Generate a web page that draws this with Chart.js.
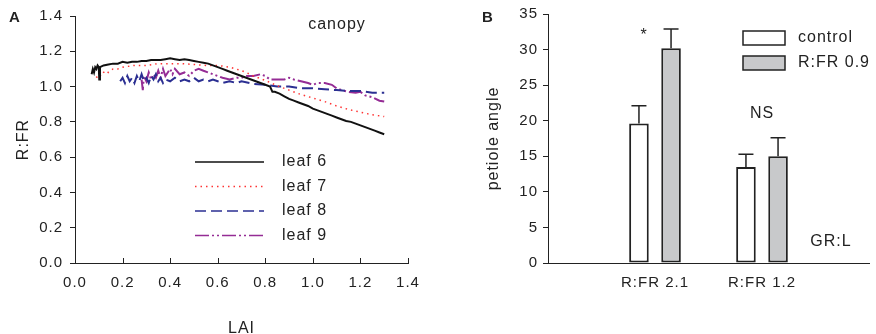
<!DOCTYPE html>
<html>
<head>
<meta charset="utf-8">
<script src="https://cdn.jsdelivr.net/npm/chart.js@4.4.0/dist/chart.umd.min.js"></script>
<style>
  html, body { margin: 0; padding: 0; background: #fff; overflow: hidden; }
  #painelA { position: absolute; left: 0; top: 0; width: 440px; height: 334px; }
  #painelB { position: absolute; left: 440px; top: 0; width: 440px; height: 334px; }
</style>
</head>
<body>
<div id="painelA"><canvas id="graficoA"></canvas></div>
<div id="painelB"><canvas id="graficoB"></canvas></div>
<script>
// Dados - painel A (R:FR x LAI)
var lai6 = [0.07,0.075,0.08,0.085,0.09,0.095,0.10,0.102,0.105,0.12,0.14,0.16,0.18,0.20,0.22,0.24,0.26,0.28,0.30,0.32,0.34,0.36,0.38,0.40,0.42,0.44,0.46,0.48,0.50,0.52,0.54,0.56,0.58,0.60,0.62,0.64,0.66,0.68,0.70,0.72,0.74,0.76,0.78,0.80,0.82,0.83,0.84,0.86,0.88,0.90,0.92,0.94,0.96,0.98,1.00,1.02,1.04,1.06,1.08,1.10,1.12,1.14,1.16,1.18,1.20,1.22,1.24,1.26,1.28,1.30];
var rfr6 = [1.07,1.10,1.08,1.11,1.10,1.12,1.11,1.04,1.11,1.12,1.125,1.13,1.13,1.14,1.135,1.14,1.14,1.145,1.145,1.15,1.15,1.15,1.155,1.16,1.155,1.15,1.155,1.15,1.145,1.14,1.135,1.13,1.12,1.11,1.10,1.09,1.08,1.07,1.06,1.05,1.04,1.03,1.02,1.01,1.00,0.97,0.97,0.96,0.945,0.93,0.92,0.91,0.90,0.89,0.875,0.865,0.855,0.845,0.835,0.825,0.815,0.805,0.80,0.79,0.78,0.77,0.76,0.75,0.74,0.73];

var lai7 = [0.09,0.10,0.11,0.12,0.13,0.14,0.16,0.18,0.20,0.25,0.30,0.35,0.40,0.45,0.50,0.55,0.60,0.65,0.70,0.72,0.75,0.80,0.85,0.90,0.95,1.00,1.05,1.10,1.15,1.20,1.25,1.30];
var rfr7 = [1.05,1.07,1.06,1.08,1.09,1.08,1.10,1.10,1.11,1.12,1.12,1.13,1.13,1.13,1.125,1.12,1.12,1.11,1.09,1.08,1.06,1.035,1.005,0.98,0.955,0.935,0.915,0.89,0.87,0.855,0.84,0.83];

var lai8 = [0.19,0.20,0.21,0.22,0.23,0.24,0.25,0.26,0.27,0.28,0.29,0.30,0.31,0.32,0.33,0.34,0.35,0.36,0.37,0.38,0.40,0.42,0.44,0.46,0.48,0.50,0.52,0.54,0.56,0.58,0.60,0.62,0.65,0.68,0.70,0.75,0.80,0.85,0.90,0.95,1.00,1.05,1.10,1.15,1.20,1.25,1.30];
var rfr8 = [1.03,1.05,1.02,1.06,1.03,1.05,1.02,1.06,1.03,1.07,1.03,1.05,1.02,1.06,1.04,1.07,1.03,1.05,1.02,1.04,1.03,1.05,1.03,1.04,1.03,1.05,1.03,1.04,1.03,1.04,1.03,1.02,1.03,1.02,1.03,1.015,1.01,1.00,1.00,0.99,0.99,0.985,0.98,0.975,0.975,0.965,0.965];

var lai9 = [0.28,0.285,0.29,0.30,0.31,0.32,0.33,0.34,0.35,0.36,0.37,0.38,0.39,0.40,0.41,0.42,0.44,0.46,0.48,0.50,0.52,0.54,0.56,0.58,0.60,0.62,0.65,0.68,0.70,0.72,0.75,0.78,0.80,0.82,0.85,0.88,0.90,0.92,0.95,0.98,1.00,1.02,1.05,1.08,1.10,1.12,1.15,1.18,1.20,1.22,1.25,1.28,1.30];
var rfr9 = [1.04,0.98,1.06,1.03,1.08,1.04,1.07,1.05,1.09,1.05,1.10,1.06,1.08,1.10,1.07,1.10,1.07,1.08,1.06,1.09,1.10,1.09,1.08,1.07,1.06,1.05,1.04,1.05,1.05,1.06,1.06,1.07,1.06,1.04,1.04,1.04,1.05,1.04,1.03,1.02,1.01,1.02,1.02,1.01,0.99,0.98,0.97,0.965,0.97,0.95,0.94,0.92,0.915];

// Dados - painel B (angulo do peciolo)
var categorias = ['', 'R:FR 2.1', 'R:FR 1.2', ''];
var anguloControle = [null, 19.6, 13.5, null];
var erroControle = [null, 2.5, 1.8, null];
var anguloRFR09 = [null, 30.2, 15.0, null];
var erroRFR09 = [null, 2.7, 2.6, null];

Chart.defaults.font.family = "'Liberation Sans', Arial, sans-serif";
Chart.defaults.font.size = 15;
Chart.defaults.color = '#222';

function pares(xs, ys) {
  return xs.map(function (v, i) { return { x: v, y: ys[i] }; });
}

// espaçamento entre letras (texto da figura original é mais largo)
var espacamento = {
  id: 'espacamento',
  beforeUpdate: function (chart) { chart.ctx.letterSpacing = '1px'; },
  beforeDraw: function (chart) { chart.ctx.letterSpacing = '1px'; }
};

// Extras do painel A: ticks para dentro no eixo x, legenda e textos
var extrasA = {
  id: 'extrasA',
  afterDraw: function (chart) {
    var ctx = chart.ctx, x = chart.scales.x, y = chart.scales.y;
    ctx.save();
    ctx.strokeStyle = '#222';
    ctx.lineWidth = 1;
    x.ticks.forEach(function (t) {
      var px = Math.round(x.getPixelForValue(t.value)) + 0.5;
      ctx.beginPath(); ctx.moveTo(px, y.bottom); ctx.lineTo(px, y.bottom - 5); ctx.stroke();
    });

    // legenda
    ctx.font = "16px 'Liberation Sans', Arial, sans-serif";
    ctx.textBaseline = 'middle';
    chart.data.datasets.forEach(function (ds, i) {
      var ly = 162 + i * 24.5;
      ctx.strokeStyle = ds.borderColor;
      ctx.lineWidth = ds.legendWidth;
      ctx.setLineDash(ds.borderDash || []);
      ctx.beginPath(); ctx.moveTo(195, ly); ctx.lineTo(264, ly); ctx.stroke();
      ctx.setLineDash([]);
      ctx.fillStyle = '#222';
      ctx.textAlign = 'left';
      ctx.fillText(ds.label, 282, ly);
    });

    ctx.textAlign = 'center';
    ctx.fillText('canopy', 337, 25);
    ctx.font = "bold 15px 'Liberation Sans', Arial, sans-serif";
    ctx.fillText('A', 15, 18);
    ctx.restore();
  }
};

// Extras do painel B: barras de erro, legenda e textos
var extrasB = {
  id: 'extrasB',
  afterDatasetsDraw: function (chart) {
    var ctx = chart.ctx, y = chart.scales.y;
    var erros = [erroControle, erroRFR09];
    ctx.save();
    ctx.strokeStyle = '#222';
    ctx.lineWidth = 1.5;
    chart.data.datasets.forEach(function (ds, i) {
      var meta = chart.getDatasetMeta(i);
      meta.data.forEach(function (bar, j) {
        if (ds.data[j] == null) return;
        var topo = y.getPixelForValue(ds.data[j] + erros[i][j]);
        ctx.beginPath();
        ctx.moveTo(bar.x, bar.y); ctx.lineTo(bar.x, topo);
        ctx.moveTo(bar.x - 7.5, topo); ctx.lineTo(bar.x + 7.5, topo);
        ctx.stroke();
      });
    });
    ctx.restore();
  },
  afterDraw: function (chart) {
    var ctx = chart.ctx, x = chart.scales.x, y = chart.scales.y;
    ctx.save();
    // legenda
    ctx.font = "16px 'Liberation Sans', Arial, sans-serif";
    ctx.textBaseline = 'middle';
    ctx.textAlign = 'left';
    chart.data.datasets.forEach(function (ds, i) {
      var ly = 31 + i * 25;
      ctx.fillStyle = ds.backgroundColor;
      ctx.fillRect(303, ly, 42, 14);
      ctx.strokeStyle = '#222';
      ctx.lineWidth = 1.5;
      ctx.strokeRect(303, ly, 42, 14);
      ctx.fillStyle = '#222';
      ctx.fillText(ds.label, 358, ly + 7);
    });

    ctx.textAlign = 'center';
    ctx.fillText('*', x.getPixelForValue(1) - 11, y.getPixelForValue(32));
    ctx.fillText('NS', x.getPixelForValue(2), y.getPixelForValue(21));
    ctx.fillText('GR:L', 391, 242);
    ctx.font = "bold 15px 'Liberation Sans', Arial, sans-serif";
    ctx.fillText('B', 48, 18);
    ctx.restore();
  }
};

// Painel A
var graficoA = new Chart(document.getElementById('graficoA'), {
  type: 'line',
  data: {
    datasets: [
      { label: 'leaf 6', data: pares(lai6, rfr6), borderColor: '#111', borderWidth: 2, legendWidth: 1.5 },
      { label: 'leaf 7', data: pares(lai7, rfr7), borderColor: '#ff3333', borderWidth: 1.5, borderDash: [1.5, 4], legendWidth: 1.5 },
      { label: 'leaf 8', data: pares(lai8, rfr8), borderColor: '#2b2f92', borderWidth: 2, borderDash: [11, 5], legendWidth: 1.5 },
      { label: 'leaf 9', data: pares(lai9, rfr9), borderColor: '#952c95', borderWidth: 2, borderDash: [14, 3, 2, 3, 2, 3], legendWidth: 1.5 }
    ]
  },
  options: {
    responsive: true,
    maintainAspectRatio: false,
    animation: false,
    layout: { padding: { top: 13, right: 32, left: 0, bottom: 0 } },
    elements: { point: { radius: 0 }, line: { tension: 0 } },
    plugins: { legend: { display: false }, tooltip: { enabled: false } },
    scales: {
      x: {
        type: 'linear',
        min: 0,
        max: 1.4,
        ticks: { stepSize: 0.2, padding: 11, maxRotation: 0,
          callback: function (v) { return v.toFixed(1); } },
        grid: { drawOnChartArea: false, drawTicks: false },
        border: { color: '#222', width: 1 },
        title: { display: true, text: 'LAI', font: { size: 16, lineHeight: 1 }, padding: { top: 0, bottom: -3 } },
        afterFit: function (s) { s.height = 71; }
      },
      y: {
        min: 0,
        max: 1.4,
        ticks: { stepSize: 0.2, padding: 7,
          callback: function (v) { return v.toFixed(1); } },
        grid: { drawOnChartArea: false, drawTicks: true, tickLength: 5, color: '#222' },
        border: { color: '#222', width: 1 },
        title: { display: true, text: 'R:FR', font: { size: 16 }, padding: { top: 14, bottom: 0 } },
        afterFit: function (s) { s.width = 75; }
      }
    }
  },
  plugins: [espacamento, extrasA]
});

// Painel B
var graficoB = new Chart(document.getElementById('graficoB'), {
  type: 'bar',
  data: {
    labels: categorias,
    datasets: [
      { label: 'control', data: anguloControle, backgroundColor: '#ffffff', borderColor: '#222', borderWidth: 2, borderSkipped: false },
      { label: 'R:FR 0.9', data: anguloRFR09, backgroundColor: '#c8c9cb', borderColor: '#222', borderWidth: 2, borderSkipped: false }
    ]
  },
  options: {
    responsive: true,
    maintainAspectRatio: false,
    animation: false,
    layout: { padding: { top: 13, right: 0, left: 0, bottom: 0 } },
    plugins: { legend: { display: false }, tooltip: { enabled: false } },
    datasets: { bar: { categoryPercentage: 0.6, barPercentage: 0.61 } },
    scales: {
      x: {
        offset: false,
        ticks: { padding: 11, maxRotation: 0, autoSkip: false },
        grid: { drawOnChartArea: false, drawTicks: false },
        border: { color: '#222', width: 1 },
        afterFit: function (s) { s.height = 71; }
      },
      y: {
        min: 0,
        max: 35,
        ticks: { stepSize: 5, padding: 5 },
        grid: { drawOnChartArea: false, drawTicks: true, tickLength: 5, color: '#222' },
        border: { color: '#222', width: 1 },
        title: { display: true, text: 'petiole angle', font: { size: 16 }, padding: { top: 44, bottom: 0 } },
        afterFit: function (s) { s.width = 108; }
      }
    }
  },
  plugins: [espacamento, extrasB]
});
</script>
</body>
</html>
